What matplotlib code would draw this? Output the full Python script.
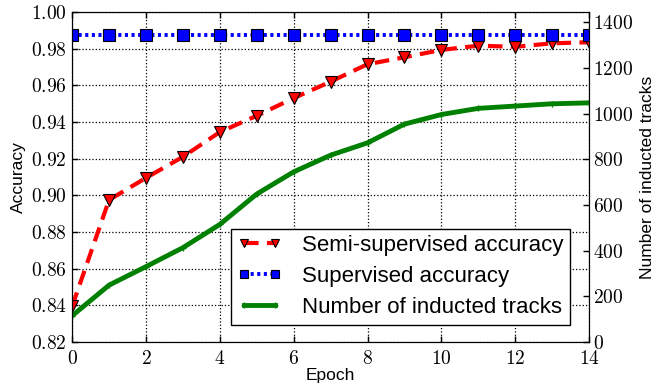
import matplotlib
matplotlib.use("Agg")
import matplotlib.pyplot as plt
from matplotlib.ticker import FuncFormatter

plt.rcParams['font.family'] = ['Liberation Sans', 'DejaVu Sans']
plt.rcParams['mathtext.fontset'] = 'cm'

epochs = list(range(15))
semi_acc = [0.8395, 0.8975, 0.9095, 0.921, 0.9345, 0.9434, 0.953, 0.962,
            0.9715, 0.9753, 0.9793, 0.9816, 0.981, 0.9829, 0.9835]
sup_acc = [0.9875] * 15
tracks = [115, 249, 330, 413, 515, 648, 745, 818, 872, 954, 996, 1023,
          1033, 1043, 1047]

fig = plt.figure(figsize=(6.56, 3.86), dpi=100)
ax = fig.add_axes([0.11, 0.114, 0.788, 0.855])
ax2 = ax.twinx()

l1, = ax.plot(epochs, semi_acc, '--v', color='red', lw=3, ms=8,
              mfc='red', mec='black', mew=0.8, dashes=(3.5, 2),
              label='Semi-supervised accuracy')
l2, = ax.plot(epochs, sup_acc, ':s', color='blue', lw=2.8, ms=8,
              mfc='blue', mec='black', mew=0.8, dashes=(0.8, 0.9),
              label='Supervised accuracy')
l3, = ax2.plot(epochs, tracks, '-+', color='green', lw=3.5, ms=5,
               mew=1, label='Number of inducted tracks')

ax.set_xlim(0, 14)
ax.set_ylim(0.82, 1.00)
ax.set_xticks(range(0, 15, 2))
ax.set_yticks([0.82 + 0.02 * i for i in range(10)])
ax2.set_ylim(0, 1445)
ax2.set_yticks(range(0, 1401, 200))

ax.xaxis.set_major_formatter(FuncFormatter(lambda v, p: r'$%d$' % v))
ax.yaxis.set_major_formatter(FuncFormatter(lambda v, p: r'$%.2f$' % v))
ax2.yaxis.set_major_formatter(FuncFormatter(lambda v, p: r'$%d$' % v))

for a in (ax, ax2):
    a.tick_params(direction='in', labelsize=14, length=4, width=1)
ax.tick_params(axis='x', top=True, pad=6)
ax.tick_params(axis='y', pad=4)
ax2.tick_params(axis='y', pad=3)

ax.grid(True, linestyle=':', color='black', lw=0.9)

ax.set_xlabel('Epoch', fontsize=12.5, labelpad=0)
ax.set_ylabel('Accuracy', fontsize=12.5, labelpad=3)
ax2.set_ylabel('Number of inducted tracks', fontsize=12.5, labelpad=5)

ax2.legend([l1, l2, l3], [l1.get_label(), l2.get_label(), l3.get_label()],
           loc='lower right', fontsize=16, fancybox=False,
           framealpha=1, edgecolor='black', borderpad=0.3,
           labelspacing=0.45, handlelength=2.0, numpoints=2,
           markerscale=0.75, handletextpad=0.9,
           bbox_to_anchor=(0.985, 0.018))

fig.savefig('out.png', dpi=100)
